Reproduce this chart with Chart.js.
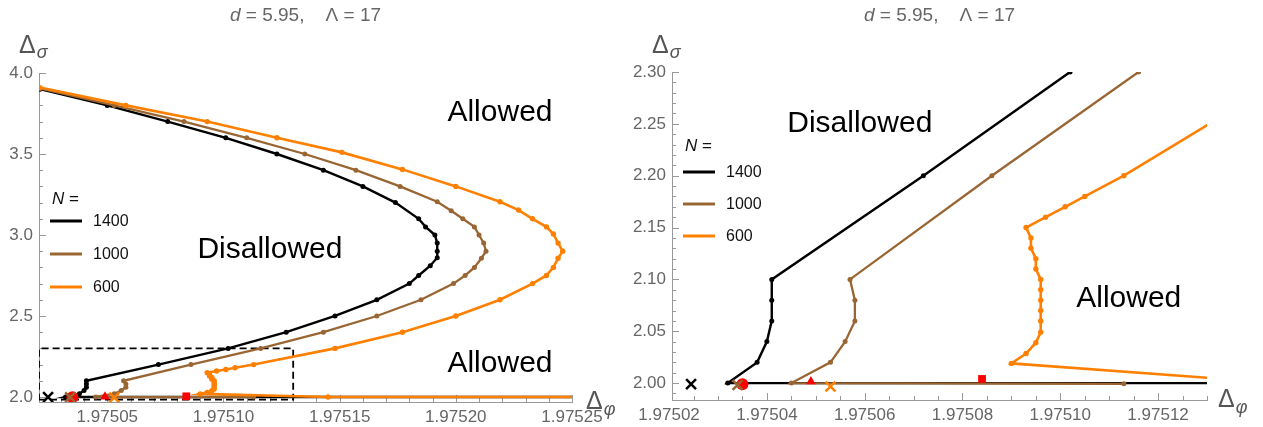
<!DOCTYPE html>
<html>
<head>
<meta charset="utf-8">
<script src="https://cdn.jsdelivr.net/npm/chart.js@4.4.1/dist/chart.umd.min.js"></script>
<style>
  html, body { margin: 0; padding: 0; background: #fff; }
  #wrap { position: relative; width: 1263px; height: 427px; }
  canvas { position: absolute; top: 0; }
  #left { left: 0; }
  #right { left: 631px; }
</style>
</head>
<body>
<div id="wrap">
  <canvas id="left" width="631" height="427"></canvas>
  <canvas id="right" width="632" height="427"></canvas>
</div>
<script>
// values
const seriesNames = ['1400', '1000', '600'];

const n1400X = [1.975021, 1.975050, 1.975076, 1.975101, 1.975123, 1.975143, 1.975160, 1.975174, 1.975184, 1.975187,
  1.975191, 1.975192, 1.975192, 1.975192, 1.975189, 1.975184, 1.975180, 1.975166, 1.975148, 1.975127,
  1.975102, 1.975072, 1.975041, 1.975041, 1.975041, 1.975040, 1.975038, 1.975032, 1.975260];
const n1400Y = [3.90, 3.80, 3.70, 3.60, 3.50, 3.40, 3.30, 3.20, 3.10, 3.05,
  3.00, 2.95, 2.90, 2.86, 2.81, 2.75, 2.70, 2.60, 2.50, 2.40,
  2.30, 2.20, 2.10, 2.08, 2.06, 2.04, 2.02, 2.00, 2.00];

const n1000X = [1.975021, 1.975053, 1.975083, 1.975110, 1.975135, 1.975157, 1.975176, 1.975192, 1.975198, 1.975203,
  1.975208, 1.975210, 1.975212, 1.975213, 1.975211, 1.975208, 1.975204, 1.975199, 1.975185, 1.975166,
  1.975143, 1.975116, 1.975086, 1.975057, 1.975058, 1.975058, 1.975056, 1.975053, 1.975045, 1.975113];
const n1000Y = [3.905, 3.80, 3.70, 3.60, 3.50, 3.40, 3.30, 3.205, 3.15, 3.10,
  3.05, 3.00, 2.95, 2.90, 2.856, 2.80, 2.75, 2.70, 2.60, 2.50,
  2.40, 2.30, 2.20, 2.10, 2.08, 2.06, 2.04, 2.02, 2.00, 1.9993];

const n600X = [1.975021, 1.975058, 1.975093, 1.975123, 1.975151, 1.975177, 1.975200, 1.975219, 1.975227, 1.975233,
  1.975239, 1.975242, 1.975244, 1.975246, 1.975244, 1.975242, 1.975239, 1.975233, 1.975219, 1.975200,
  1.975177, 1.975148, 1.975113, 1.975105, 1.975101, 1.975097, 1.975093, 1.975094, 1.975094, 1.975095,
  1.975095, 1.975096, 1.975096, 1.975096, 1.975096, 1.975096, 1.975096, 1.975095, 1.975093, 1.975090,
  1.975145, 1.975260];
const n600Y = [3.91, 3.80, 3.70, 3.60, 3.51, 3.405, 3.30, 3.205, 3.154, 3.10,
  3.05, 3.006, 2.95, 2.90, 2.856, 2.80, 2.75, 2.70, 2.60, 2.50,
  2.40, 2.30, 2.20, 2.18, 2.17, 2.16, 2.15, 2.14, 2.13, 2.12,
  2.11, 2.10, 2.09, 2.08, 2.07, 2.06, 2.049, 2.039, 2.0285, 2.019,
  2.00, 2.00];

// single marked points near the bottom
const blackCrossX = [1.9750245], blackCrossY = [1.9990];
const brownCrossX = [1.975034], brownCrossY = [1.9982];
const orangeCrossX = [1.975053], orangeCrossY = [1.9967];
const redCircleX = [1.975035], redCircleY = [1.9990];
const redTriangleX = [1.975049], redTriangleY = [2.0015];
const redSquareX = [1.975084], redSquareY = [2.0040];

// dashed zoom box in the left panel
const boxX = [1.9750206, 1.97513, 1.97513, 1.9750206, 1.9750206];
const boxY = [1.9837, 1.9837, 2.30, 2.30, 1.9837];

// axes
const leftXRange = [1.9750206, 1.97525], leftYRange = [1.969, 4.0];
const rightXRange = [1.9750206, 1.97513], rightYRange = [1.9837, 2.30];
const leftXTicks = [1.97505, 1.97510, 1.97515, 1.97520, 1.97525];
const leftXLabels = ['1.97505', '1.97510', '1.97515', '1.97520', '1.97525'];
const leftYTicks = [2.0, 2.5, 3.0, 3.5, 4.0];
const leftYLabels = ['2.0', '2.5', '3.0', '3.5', '4.0'];
const rightXTicks = [1.97502, 1.97504, 1.97506, 1.97508, 1.97510, 1.97512];
const rightXLabels = ['1.97502', '1.97504', '1.97506', '1.97508', '1.97510', '1.97512'];
const rightYTicks = [2.00, 2.05, 2.10, 2.15, 2.20, 2.25, 2.30];
const rightYLabels = ['2.00', '2.05', '2.10', '2.15', '2.20', '2.25', '2.30'];

const FONT = '"Liberation Sans", Arial, sans-serif';
const AXIS = '#999999';
const LABEL = '#666666';
const colors = ['#000000', '#996633', '#ff8000'];

function pts(xs, ys) { return xs.map((x, i) => ({ x: x, y: ys[i] })); }

function datasets(withBox) {
  const ds = [
    { label: seriesNames[0], data: pts(n1400X, n1400Y), borderColor: colors[0], backgroundColor: colors[0], borderWidth: 2.4, pointRadius: 2.5, pointBorderWidth: 0, showLine: true, order: 3 },
    { label: seriesNames[1], data: pts(n1000X, n1000Y), borderColor: colors[1], backgroundColor: colors[1], borderWidth: 2.3, pointRadius: 2.5, pointBorderWidth: 0, showLine: true, order: 2 },
    { label: seriesNames[2], data: pts(n600X, n600Y), borderColor: colors[2], backgroundColor: colors[2], borderWidth: 2.6, pointRadius: 2.7, pointBorderWidth: 0, showLine: true, order: 1 },
    { data: pts(blackCrossX, blackCrossY), pointStyle: 'crossRot', pointRadius: 7, pointBorderWidth: 2.5, borderColor: colors[0], order: 0 },
    { data: pts(brownCrossX, brownCrossY), pointStyle: 'crossRot', pointRadius: 7, pointBorderWidth: 2.5, borderColor: colors[1], order: 0 },
    { data: pts(orangeCrossX, orangeCrossY), pointStyle: 'crossRot', pointRadius: 7, pointBorderWidth: 2.5, borderColor: colors[2], order: 0 },
    { data: pts(redCircleX, redCircleY), pointStyle: 'circle', pointRadius: 6, pointBorderWidth: 0, backgroundColor: '#ff0000', order: 0 },
    { data: pts(redTriangleX, redTriangleY), pointStyle: 'triangle', pointRadius: 5.5, pointBorderWidth: 0, backgroundColor: '#ff0000', order: 0 },
    { data: pts(redSquareX, redSquareY), pointStyle: 'rect', pointRadius: 5.5, pointBorderWidth: 0, backgroundColor: '#ff0000', order: 0 }
  ];
  if (withBox) {
    ds.push({ data: pts(boxX, boxY), borderColor: '#000', borderWidth: 1.8, borderDash: [7, 4], pointRadius: 0, showLine: true, order: 5 });
  }
  return ds;
}

// Mathematica-like decorations: inward ticks, axis names, title, labels, legend
const decor = {
  id: 'decor',
  beforeDatasetsDraw(chart, args, o) {
    const { ctx, chartArea: a, scales: { x, y } } = chart;
    ctx.save();
    ctx.strokeStyle = AXIS;
    ctx.lineWidth = 1;
    ctx.beginPath();
    for (let k = Math.ceil(x.min / o.xMinor - 1e-6); k * o.xMinor <= x.max + 1e-12; k++) {
      const v = k * o.xMinor;
      const r = v / o.xMajor;
      const len = Math.abs(r - Math.round(r)) < 1e-4 ? 7 : 4;
      const px = Math.round(x.getPixelForValue(v)) + 0.5;
      ctx.moveTo(px, a.bottom);
      ctx.lineTo(px, a.bottom - len);
    }
    for (let k = Math.ceil(y.min / o.yMinor - 1e-6); k * o.yMinor <= y.max + 1e-9; k++) {
      const v = k * o.yMinor;
      const r = v / o.yMajor;
      const len = Math.abs(r - Math.round(r)) < 1e-4 ? 7 : 4;
      const py = Math.round(y.getPixelForValue(v)) + 0.5;
      ctx.moveTo(a.left, py);
      ctx.lineTo(a.left + len, py);
    }
    ctx.stroke();
    ctx.restore();
  },
  afterDraw(chart, args, o) {
    const { ctx, chartArea: a, scales: { x, y } } = chart;
    ctx.save();
    ctx.textBaseline = 'alphabetic';

    // title
    ctx.fillStyle = LABEL;
    const pieces = [['d', 'italic 19px ' + FONT], [' = 5.95,    ', '19px ' + FONT], ['\u039b = 17', '19px ' + FONT]];
    let total = 0;
    pieces.forEach(p => { ctx.font = p[1]; total += ctx.measureText(p[0]).width; });
    let cx = (a.left + a.right) / 2 - total / 2;
    pieces.forEach(p => { ctx.font = p[1]; ctx.fillText(p[0], cx, 21); cx += ctx.measureText(p[0]).width; });

    // axis names
    ctx.fillStyle = '#555555';
    ctx.font = '25px ' + FONT;
    ctx.fillText('\u0394', a.left - 20, 53);
    let w = ctx.measureText('\u0394').width;
    ctx.font = 'italic 18px ' + FONT;
    ctx.fillText('\u03c3', a.left - 20 + w + 1, 58);

    ctx.font = '25px ' + FONT;
    ctx.fillText('\u0394', a.right + o.phiDx, a.bottom + 7);
    w = ctx.measureText('\u0394').width;
    ctx.font = 'italic 18px ' + FONT;
    ctx.fillText('\u03c6', a.right + o.phiDx + w + 1, a.bottom + 13);

    // region labels
    ctx.fillStyle = '#000';
    ctx.font = '30px ' + FONT;
    ctx.textAlign = 'center';
    ctx.textBaseline = 'middle';
    o.texts.forEach(t => ctx.fillText(t.text, x.getPixelForValue(t.x), y.getPixelForValue(t.y)));

    // legend
    const lg = o.legend;
    ctx.textAlign = 'left';
    ctx.fillStyle = '#111';
    ctx.font = 'italic 17px ' + FONT;
    ctx.fillText('N', a.left + 13, lg.nY);
    const nw = ctx.measureText('N').width;
    ctx.font = '17px ' + FONT;
    ctx.fillText(' =', a.left + 13 + nw, lg.nY);
    ctx.font = '16px ' + FONT;
    chart.data.datasets.slice(0, 3).forEach((d, i) => {
      const ry = lg.y0 + i * lg.dy;
      ctx.strokeStyle = d.borderColor;
      ctx.lineWidth = 3;
      ctx.beginPath();
      ctx.moveTo(a.left + 11, ry);
      ctx.lineTo(a.left + 43, ry);
      ctx.stroke();
      ctx.fillStyle = '#111';
      ctx.fillText(d.label, a.left + 54, ry + 1);
    });
    ctx.restore();
  }
};

function makeChart(id, cfg) {
  return new Chart(document.getElementById(id), {
    type: 'scatter',
    data: { datasets: datasets(cfg.box) },
    plugins: [decor],
    options: {
      responsive: false,
      animation: false,
      devicePixelRatio: 1,
      layout: { padding: { left: 0, top: cfg.top, right: cfg.right, bottom: 0 } },
      plugins: {
        legend: { display: false },
        tooltip: { enabled: false },
        decor: cfg.decor
      },
      scales: {
        x: {
          type: 'linear', min: cfg.xRange[0], max: cfg.xRange[1],
          border: { display: true, color: AXIS, width: 1 },
          grid: { display: false, drawTicks: false },
          ticks: { autoSkip: false, maxRotation: 0, padding: 5, color: LABEL, font: { family: FONT, size: 17 },
            callback: (v, i) => cfg.xLabels[i] },
          afterBuildTicks: s => { s.ticks = cfg.xTicks.map(v => ({ value: v })); },
          afterFit: s => { s.height = cfg.xH; }
        },
        y: {
          type: 'linear', min: cfg.yRange[0], max: cfg.yRange[1],
          border: { display: true, color: AXIS, width: 1 },
          grid: { display: false, drawTicks: false },
          ticks: { autoSkip: false, padding: 6, color: LABEL, font: { family: FONT, size: 17 },
            callback: (v, i) => cfg.yLabels[i] },
          afterBuildTicks: s => { s.ticks = cfg.yTicks.map(v => ({ value: v })); },
          afterFit: s => { s.width = cfg.yW; }
        }
      }
    }
  });
}

makeChart('left', {
  box: true, top: 73, right: 59, xH: 25, yW: 39,
  xRange: leftXRange, yRange: leftYRange,
  xTicks: leftXTicks, xLabels: leftXLabels, yTicks: leftYTicks, yLabels: leftYLabels,
  decor: {
    xMinor: 0.00001, xMajor: 0.00005, yMinor: 0.1, yMajor: 0.5, phiDx: 14,
    texts: [
      { text: 'Disallowed', x: 1.97512, y: 2.907 },
      { text: 'Allowed', x: 1.975219, y: 3.753 },
      { text: 'Allowed', x: 1.975219, y: 2.204 }
    ],
    legend: { nY: 199, y0: 221, dy: 33 }
  }
});

makeChart('right', {
  box: false, top: 72, right: 56, xH: 27, yW: 41,
  xRange: rightXRange, yRange: rightYRange,
  xTicks: rightXTicks, xLabels: rightXLabels, yTicks: rightYTicks, yLabels: rightYLabels,
  decor: {
    xMinor: 0.000005, xMajor: 0.00002, yMinor: 0.01, yMajor: 0.05, phiDx: 11,
    texts: [
      { text: 'Disallowed', x: 1.975059, y: 2.25 },
      { text: 'Allowed', x: 1.975114, y: 2.081 }
    ],
    legend: { nY: 146, y0: 172, dy: 32 }
  }
});
</script>
</body>
</html>
